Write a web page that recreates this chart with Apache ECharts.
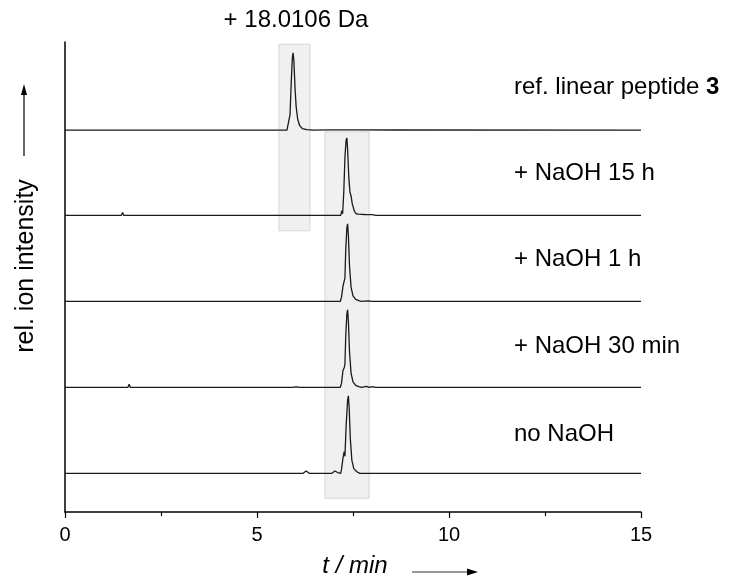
<!DOCTYPE html>
<html>
<head>
<meta charset="utf-8">
<script src="https://cdn.jsdelivr.net/npm/echarts@6/dist/echarts.min.js"></script>
<style>
  html, body { margin: 0; padding: 0; background: #fff; }
  #main { width: 731px; height: 583px; }
</style>
</head>
<body>
<div id="main"></div>
<script>
// chromatogram traces, [time (min), normalised intensity]
var traceRef = [[0,0],[5.78,0],[5.83,0.02],[5.86,0.2],[5.89,0.6],[5.92,0.93],[5.94,1.0],[5.96,0.9],[5.99,0.55],[6.02,0.3],[6.06,0.14],[6.11,0.06],[6.18,0.02],[6.3,0.006],[6.45,0],[6.9,0.004],[7.6,0.003],[8.6,0.002],[15,0]];
var trace15h = [[0,0],[1.47,0],[1.5,0.035],[1.53,0],[5.86,0],[5.9,0.01],[5.95,0],[6.0,0.012],[6.05,0],[6.1,0.01],[6.15,0],[7.18,0],[7.21,0.06],[7.23,0.02],[7.26,0.3],[7.29,0.75],[7.32,0.97],[7.34,1.0],[7.36,0.85],[7.39,0.5],[7.42,0.3],[7.45,0.25],[7.48,0.15],[7.53,0.06],[7.58,0.02],[7.65,0.015],[7.7,0],[7.8,0.01],[7.85,0],[8.0,0.008],[8.1,0],[15,0]];
var trace1h = [[0,0],[6.05,0],[6.1,0.02],[6.15,0],[7.17,0],[7.2,0.05],[7.24,0.2],[7.27,0.26],[7.29,0.3],[7.31,0.65],[7.34,0.95],[7.36,1.0],[7.38,0.85],[7.41,0.45],[7.45,0.18],[7.5,0.07],[7.57,0.025],[7.65,0.01],[7.72,0],[7.9,0.006],[8.0,0],[15,0]];
var trace30min = [[0,0],[1.64,0],[1.67,0.04],[1.7,0],[5.92,0],[5.97,0.015],[6.02,0.005],[6.07,0.015],[6.12,0],[7.17,0],[7.2,0.05],[7.24,0.22],[7.27,0.25],[7.29,0.3],[7.31,0.65],[7.34,0.95],[7.36,1.0],[7.38,0.85],[7.41,0.45],[7.45,0.18],[7.5,0.07],[7.57,0.025],[7.65,0.01],[7.72,0],[7.85,0.012],[7.92,0],[8.0,0.01],[8.08,0],[15,0]];
var traceNo = [[0,0],[6.2,0],[6.28,0.03],[6.36,0],[6.95,0],[7.03,0.03],[7.1,0.01],[7.18,0],[7.2,0.05],[7.24,0.2],[7.27,0.28],[7.29,0.22],[7.32,0.6],[7.36,0.95],[7.38,1.0],[7.4,0.85],[7.43,0.45],[7.47,0.17],[7.52,0.06],[7.6,0.02],[7.68,0],[9.05,0],[9.1,0.012],[9.15,0],[15,0]];

var traceNames = ['ref. linear peptide 3', '+ NaOH 15 h', '+ NaOH 1 h', '+ NaOH 30 min', 'no NaOH'];
var traces = [traceRef, trace15h, trace1h, trace30min, traceNo];
var offsets = [4.44, 3.45, 2.45, 1.45, 0.45];   // vertical stacking of the traces
var peakScale = 0.9;

// highlighted retention windows [t0, t1, y0, y1]
var boxes = [[5.57, 6.38, 3.27, 5.44], [6.77, 7.92, 0.16, 4.42]];

var xTicks = [0, 5, 10, 15];

var font = 'Liberation Sans, Arial, Helvetica, sans-serif';
var lineColor = '#1a1a1a';
var fs = 24;

var series = traces.map(function (tr, i) {
    var s = {
        name: traceNames[i],
        type: 'line',
        showSymbol: false,
        silent: true,
        animation: false,
        lineStyle: { color: lineColor, width: 1.3 },
        data: tr.map(function (p) { return [p[0], offsets[i] + p[1] * peakScale]; }),
        z: 3
    };
    if (i === 0) {
        s.markArea = {
            silent: true,
            itemStyle: { color: '#f0f0f0', borderColor: '#d6d6d6', borderWidth: 1 },
            data: boxes.map(function (b) {
                return [{ coord: [b[0], b[3]] }, { coord: [b[1], b[2]] }];
            })
        };
    }
    return s;
});

var labelY = [87, 173, 259, 346, 434];
var graphics = labelY.map(function (y, i) {
    return {
        type: 'text', x: 514, y: y,
        style: i === 0 ? {
            text: '{n|ref. linear peptide }{b|3}',
            verticalAlign: 'middle',
            rich: {
                n: { fontSize: fs, fontFamily: font, fill: '#000' },
                b: { fontSize: fs, fontFamily: font, fontWeight: 'bold', fill: '#000' }
            }
        } : { text: traceNames[i], fontSize: fs, fontFamily: font, fill: '#000', verticalAlign: 'middle' }
    };
});
graphics.push({
    type: 'text', x: 296, y: 20,
    style: { text: '+ 18.0106 Da', fontSize: fs, fontFamily: font, fill: '#000', align: 'center', verticalAlign: 'middle' }
});
// y axis title with arrow
graphics.push({
    type: 'text', x: 26, y: 266, rotation: Math.PI / 2,
    style: { text: 'rel. ion intensity', fontSize: 25, fontFamily: font, fill: '#000', align: 'center', verticalAlign: 'middle' }
});
graphics.push({ type: 'line', shape: { x1: 24, y1: 156, x2: 24, y2: 94 }, style: { stroke: '#000', lineWidth: 1.2 } });
graphics.push({ type: 'polygon', shape: { points: [[24, 84], [21, 95], [27, 95]] }, style: { fill: '#000' } });
// x axis title with arrow
graphics.push({
    type: 'text', x: 355, y: 566,
    style: { text: 't / min', fontSize: fs, fontFamily: font, fontStyle: 'italic', fill: '#000', align: 'center', verticalAlign: 'middle' }
});
graphics.push({ type: 'line', shape: { x1: 412, y1: 572, x2: 468, y2: 572 }, style: { stroke: '#333', lineWidth: 1.2 } });
graphics.push({ type: 'polygon', shape: { points: [[478, 572], [467, 568.5], [467, 575.5]] }, style: { fill: '#000' } });

var option = {
    backgroundColor: '#fff',
    animation: false,
    grid: { left: 65, right: 90, top: 42, bottom: 71 },
    xAxis: {
        type: 'value', min: 0, max: 15, interval: 5,
        axisLine: { lineStyle: { color: '#000', width: 1.5 } },
        axisTick: { show: true, length: 6, lineStyle: { color: '#000', width: 1.2 } },
        minorTick: { show: true, splitNumber: 2, length: 4, lineStyle: { color: '#000', width: 1.2 } },
        splitLine: { show: false },
        axisLabel: {
            color: '#000', fontSize: 20, fontFamily: font, margin: 13,
            formatter: function (v) { return xTicks.indexOf(v) >= 0 ? String(v) : ''; }
        }
    },
    yAxis: {
        type: 'value', min: 0, max: 5.465,
        axisLine: { show: true, lineStyle: { color: '#000', width: 1.5 } },
        axisTick: { show: false },
        axisLabel: { show: false },
        splitLine: { show: false }
    },
    series: series,
    graphic: graphics
};

var myChart = echarts.init(document.getElementById('main'));
myChart.setOption(option);
</script>
</body>
</html>
